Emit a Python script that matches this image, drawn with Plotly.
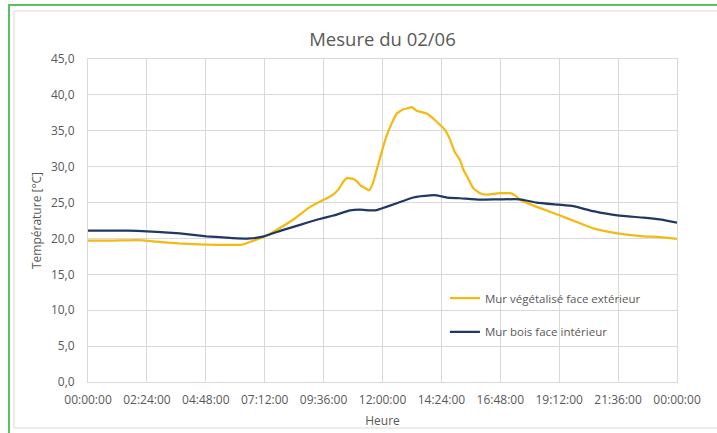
import plotly.graph_objects as go

# ---- data (hours since 00:00, temperature °C) ----
tick_hours = [0, 2.4, 4.8, 7.2, 9.6, 12.0, 14.4, 16.8, 19.2, 21.6, 24.0]
tick_labels = ["00:00:00", "02:24:00", "04:48:00", "07:12:00", "09:36:00", "12:00:00",
               "14:24:00", "16:48:00", "19:12:00", "21:36:00", "00:00:00"]

veg_hours = [0.0, 1.0, 2.0, 2.8, 3.7, 4.8, 5.9, 6.3, 6.75, 7.17, 7.7, 8.35, 9.05, 9.6, 9.9,
             10.2, 10.4, 10.55, 10.8, 10.95, 11.1, 11.25, 11.45, 11.6, 11.76, 12.03, 12.2,
             12.37, 12.58, 12.85, 13.0, 13.19, 13.39, 13.8, 14.0, 14.2, 14.55, 14.75, 14.95,
             15.16, 15.29, 15.45, 15.7, 15.97, 16.24, 16.5, 16.79, 17.2, 17.4, 17.6, 18.28,
             19.16, 19.91, 20.59, 21.57, 22.63, 23.3, 24.0]
veg_temp = [19.7, 19.7, 19.75, 19.55, 19.3, 19.15, 19.1, 19.15, 19.7, 20.2, 21.2, 22.6, 24.4,
            25.4, 25.9, 26.8, 27.9, 28.4, 28.3, 28.0, 27.4, 27.1, 26.7, 27.6, 29.5, 32.8, 34.6,
            36.0, 37.4, 38.0, 38.1, 38.3, 37.8, 37.4, 36.9, 36.3, 35.1, 33.8, 32.0, 30.9, 29.6,
            28.6, 27.0, 26.3, 26.1, 26.2, 26.3, 26.3, 26.0, 25.4, 24.4, 23.3, 22.3, 21.4, 20.7,
            20.3, 20.2, 19.95]

bois_hours = [0.0, 1.25, 2.0, 2.8, 3.74, 4.83, 5.9, 6.6, 7.17, 7.96, 8.64, 9.32, 10.0, 10.68,
              11.07, 11.7, 11.9, 12.58, 13.25, 13.94, 14.2, 14.62, 15.16, 15.97, 16.79, 17.6,
              18.28, 19.16, 19.77, 20.59, 21.57, 22.63, 23.3, 24.0]
bois_temp = [21.1, 21.1, 21.05, 20.9, 20.7, 20.3, 20.05, 20.0, 20.3, 21.2, 21.9, 22.6, 23.2,
             23.9, 24.0, 23.9, 24.1, 24.9, 25.7, 26.0, 26.0, 25.7, 25.6, 25.4, 25.45, 25.45,
             25.0, 24.7, 24.5, 23.8, 23.2, 22.9, 22.65, 22.2]

y_ticks = [0, 5, 10, 15, 20, 25, 30, 35, 40, 45]

TXT = "#595959"
GRID = "#D9D9D9"
FONT = "Open Sans"

fig = go.Figure()
fig.add_trace(go.Scatter(x=veg_hours, y=veg_temp, mode="lines",
                         name="Mur végétalisé face extérieur", showlegend=True,
                         line=dict(color="#F5B913", width=2.25, shape="spline", smoothing=0.4),
                         legend="legend"))
fig.add_trace(go.Scatter(x=bois_hours, y=bois_temp, mode="lines",
                         name="Mur bois face intérieur", showlegend=True,
                         line=dict(color="#1F3864", width=2.25, shape="spline", smoothing=0.4),
                         legend="legend2"))

legend_common = dict(bgcolor="rgba(0,0,0,0)", font=dict(family=FONT, size=11.5, color=TXT),
                     xanchor="left", yanchor="middle")

fig.update_layout(
    width=717, height=433,
    margin=dict(l=88, r=40, t=59, b=51),
    paper_bgcolor="white", plot_bgcolor="white",
    separators=", ",
    showlegend=True,
    font=dict(family=FONT, color=TXT, size=12),
    title=dict(text="Mesure du 02/06", x=(88 + 589 / 2) / 717, xanchor="center",
               y=1 - 40 / 433, yanchor="middle",
               font=dict(family=FONT, size=18.5, color=TXT)),
    legend=dict(x=0.606, y=0.26, **legend_common),
    legend2=dict(x=0.606, y=0.155, **legend_common),
    xaxis=dict(range=[0, 24], tickmode="array", tickvals=tick_hours, ticktext=tick_labels,
               showgrid=True, gridcolor=GRID, gridwidth=1, zeroline=False,
               showline=True, linecolor=GRID, mirror=True, ticks="",
               ticklabelstandoff=7, automargin=False,
               tickfont=dict(family=FONT, size=12, color=TXT),
               title=dict(text="Heure", standoff=9, font=dict(family=FONT, size=12, color=TXT))),
    yaxis=dict(range=[0, 45], tickmode="array", tickvals=y_ticks, tickformat=".1f",
               showgrid=True, gridcolor=GRID, gridwidth=1, zeroline=False,
               showline=True, linecolor=GRID, mirror=True, ticks="",
               ticklabelstandoff=10, automargin=False,
               tickfont=dict(family=FONT, size=12, color=TXT),
               title=dict(text="Température [°C]", standoff=6,
                          font=dict(family=FONT, size=12, color=TXT))),
)

# frames around the chart (paper coords relative to the plot area)
def px_x(x):
    return (x - 88) / 589

def px_y(y):
    return (382 - y) / 323

fig.add_shape(type="rect", xref="paper", yref="paper",
              x0=px_x(14), x1=px_x(740), y0=px_y(428), y1=px_y(11),
              line=dict(color="#D9D9D9", width=1), fillcolor="rgba(0,0,0,0)", layer="below")
fig.add_shape(type="rect", xref="paper", yref="paper",
              x0=px_x(9), x1=px_x(745), y0=px_y(450), y1=px_y(5),
              line=dict(color="#5CBF60", width=2), fillcolor="rgba(0,0,0,0)")

fig.write_html("out.html", config={"displayModeBar": False},
               post_script="document.body.style.margin='0';document.body.style.overflow='hidden';")
